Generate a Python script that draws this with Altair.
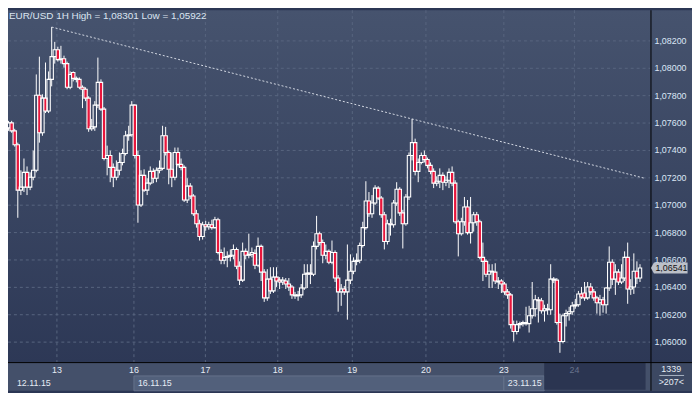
import altair as alt
import pandas as pd

# ---------------- data ----------------
opens = [
1.07565,1.07601,1.07543,1.07442,1.07110,1.07132,1.07240,1.07132,1.07204,1.07255,
1.07803,1.07529,1.07782,1.07688,1.07919,1.08085,1.08135,1.08063,1.08070,1.08034,
1.07861,1.07969,1.07926,1.07919,1.07861,1.07847,1.07782,1.07558,1.07572,1.07731,
1.07897,1.07702,1.07341,1.07363,1.07276,1.07204,1.07255,1.07312,1.07377,1.07507,
1.07515,1.07731,1.07363,1.07002,1.07218,1.07110,1.07161,1.07247,1.07197,1.07255,
1.07269,1.07507,1.07385,1.07262,1.07204,1.07385,1.07298,1.07276,1.07038,1.07139,
1.07067,1.06937,1.06865,1.06771,1.06857,1.06843,1.06857,1.06836,1.06894,1.06655,
1.06598,1.06619,1.06626,1.06634,1.06677,1.06554,1.06453,1.06663,1.06634,1.06641,
1.06648,1.06561,1.06699,1.06511,1.06323,1.06460,1.06374,1.06475,1.06453,1.06439,
1.06446,1.06424,1.06403,1.06345,1.06338,1.06345,1.06395,1.06496,1.06504,1.06496,
1.06699,1.06792,1.06727,1.06634,1.06663,1.06583,1.06655,1.06468,1.06367,1.06388,
1.06367,1.06453,1.06518,1.06590,1.06598,1.06706,1.06836,1.07031,1.06937,1.07016,
1.07125,1.07052,1.06930,1.06735,1.06865,1.06857,1.07016,1.07117,1.06944,1.06865,
1.07060,1.07363,1.07457,1.07247,1.07312,1.07363,1.07334,1.07291,1.07247,1.07161,
1.07175,1.07218,1.07168,1.07182,1.07240,1.07161,1.06879,1.06792,1.06879,1.06987,
1.06800,1.06872,1.06930,1.06879,1.06619,1.06590,1.06496,1.06518,1.06511,1.06446,
1.06446,1.06424,1.06367,1.06345,1.06128,1.06078,1.06128,1.06135,1.06143,1.06135,
1.06193,1.06244,1.06309,1.06302,1.06229,1.06237,1.06237,1.06460,1.06453,1.06143,
1.06005,1.06193,1.06208,1.06222,1.06265,1.06273,1.06352,1.06359,1.06323,1.06403,
1.06367,1.06323,1.06287,1.06309,1.06273,1.06395,1.06583,1.06460,1.06511,1.06439,
1.06468,1.06619,1.06388,1.06403,1.06518,1.06468]

highs = [
1.07616,1.07616,1.07558,1.07457,1.07255,1.07341,1.07283,1.07240,1.07399,1.07955,
1.08085,1.07810,1.08042,1.07977,1.08301,1.08193,1.08157,1.08164,1.08092,1.08049,
1.07977,1.07977,1.07940,1.07933,1.07875,1.07861,1.07796,1.07630,1.07760,1.08078,
1.07919,1.07717,1.07435,1.07399,1.07305,1.07327,1.07385,1.07413,1.07543,1.07580,
1.07760,1.07738,1.07399,1.07255,1.07262,1.07197,1.07283,1.07269,1.07276,1.07327,
1.07580,1.07572,1.07399,1.07385,1.07421,1.07421,1.07341,1.07291,1.07197,1.07161,
1.07081,1.06966,1.06894,1.06879,1.06886,1.06879,1.06894,1.06915,1.06908,1.06677,
1.06691,1.06663,1.06677,1.06713,1.06691,1.06590,1.06727,1.06684,1.06792,1.06691,
1.06677,1.06764,1.06713,1.06533,1.06533,1.06547,1.06547,1.06547,1.06475,1.06475,
1.06468,1.06468,1.06417,1.06367,1.06374,1.06424,1.06569,1.06569,1.06569,1.06735,
1.06922,1.06807,1.06749,1.06713,1.06677,1.06742,1.06670,1.06489,1.06424,1.06410,
1.06713,1.06641,1.06619,1.06648,1.06727,1.06879,1.07175,1.07096,1.07074,1.07146,
1.07139,1.07067,1.06951,1.06894,1.06901,1.07038,1.07168,1.07132,1.06966,1.07081,
1.07385,1.07630,1.07486,1.07341,1.07385,1.07399,1.07348,1.07312,1.07269,1.07211,
1.07269,1.07240,1.07211,1.07269,1.07283,1.07182,1.06894,1.06908,1.07060,1.07038,
1.07060,1.06951,1.06951,1.06894,1.06727,1.06605,1.06569,1.06569,1.06576,1.06475,
1.06460,1.06439,1.06388,1.06359,1.06157,1.06157,1.06150,1.06157,1.06258,1.06265,
1.06439,1.06345,1.06330,1.06323,1.06273,1.06280,1.06569,1.06475,1.06468,1.06208,
1.06208,1.06237,1.06258,1.06294,1.06316,1.06374,1.06403,1.06439,1.06439,1.06431,
1.06388,1.06338,1.06345,1.06330,1.06403,1.06699,1.06605,1.06569,1.06533,1.06569,
1.06663,1.06727,1.06460,1.06648,1.06590,1.06569]

lows = [
1.07543,1.07529,1.07428,1.06908,1.07074,1.07096,1.07074,1.07110,1.07182,1.07240,
1.07457,1.07507,1.07673,1.07673,1.07868,1.08034,1.08049,1.08034,1.08005,1.07847,
1.07847,1.07904,1.07897,1.07847,1.07709,1.07760,1.07536,1.07543,1.07543,1.07709,
1.07688,1.07327,1.07218,1.07168,1.07132,1.07182,1.07218,1.07291,1.07363,1.07471,
1.07500,1.07341,1.06872,1.06987,1.07096,1.07074,1.07146,1.07161,1.07168,1.07233,
1.07255,1.07363,1.07153,1.07132,1.07182,1.07283,1.07255,1.07024,1.07016,1.07045,
1.06922,1.06836,1.06742,1.06749,1.06814,1.06821,1.06821,1.06829,1.06641,1.06569,
1.06569,1.06547,1.06590,1.06605,1.06533,1.06417,1.06439,1.06605,1.06612,1.06619,
1.06533,1.06547,1.06446,1.06294,1.06302,1.06352,1.06359,1.06403,1.06388,1.06417,
1.06388,1.06374,1.06316,1.06316,1.06302,1.06323,1.06381,1.06395,1.06424,1.06482,
1.06677,1.06706,1.06576,1.06605,1.06569,1.06569,1.06439,1.06222,1.06265,1.06345,
1.06164,1.06424,1.06496,1.06561,1.06576,1.06691,1.06821,1.06915,1.06908,1.07002,
1.07038,1.06908,1.06677,1.06713,1.06778,1.06836,1.06995,1.06922,1.06684,1.06850,
1.07038,1.07327,1.07218,1.07168,1.07298,1.07312,1.07269,1.07226,1.07125,1.07139,
1.07125,1.07110,1.07139,1.07125,1.07139,1.06865,1.06626,1.06778,1.06850,1.06785,
1.06720,1.06807,1.06850,1.06605,1.06446,1.06475,1.06395,1.06395,1.06424,1.06388,
1.06359,1.06345,1.06316,1.06099,1.06005,1.06056,1.06099,1.06114,1.06121,1.06070,
1.06172,1.06186,1.06143,1.06208,1.06150,1.06200,1.06200,1.06431,1.06128,1.05922,
1.05991,1.06114,1.06157,1.06200,1.06244,1.06258,1.06316,1.06302,1.06309,1.06345,
1.06302,1.06208,1.06193,1.06215,1.06208,1.06374,1.06417,1.06345,1.06417,1.06424,
1.06446,1.06280,1.06345,1.06352,1.06424,1.06439]

closes = [
1.07601,1.07543,1.07442,1.07110,1.07132,1.07240,1.07132,1.07204,1.07255,1.07803,
1.07529,1.07782,1.07688,1.07919,1.08085,1.08135,1.08063,1.08070,1.08034,1.07861,
1.07955,1.07926,1.07919,1.07861,1.07847,1.07782,1.07558,1.07572,1.07731,1.07897,
1.07702,1.07341,1.07363,1.07276,1.07204,1.07255,1.07312,1.07377,1.07507,1.07515,
1.07731,1.07363,1.07002,1.07218,1.07110,1.07161,1.07247,1.07197,1.07255,1.07269,
1.07507,1.07385,1.07262,1.07204,1.07385,1.07298,1.07276,1.07038,1.07139,1.07067,
1.06937,1.06865,1.06771,1.06857,1.06843,1.06857,1.06836,1.06894,1.06655,1.06598,
1.06619,1.06626,1.06634,1.06677,1.06554,1.06453,1.06663,1.06634,1.06641,1.06655,
1.06561,1.06699,1.06511,1.06323,1.06460,1.06374,1.06475,1.06446,1.06439,1.06453,
1.06424,1.06403,1.06345,1.06338,1.06345,1.06395,1.06496,1.06504,1.06496,1.06699,
1.06792,1.06727,1.06634,1.06663,1.06583,1.06655,1.06468,1.06367,1.06388,1.06367,
1.06453,1.06518,1.06590,1.06598,1.06706,1.06836,1.07031,1.06937,1.07016,1.07125,
1.07052,1.06930,1.06735,1.06865,1.06857,1.07016,1.07117,1.06944,1.06865,1.07060,
1.07363,1.07457,1.07247,1.07312,1.07363,1.07334,1.07291,1.07247,1.07161,1.07175,
1.07218,1.07168,1.07182,1.07240,1.07161,1.06879,1.06792,1.06879,1.06987,1.06800,
1.06872,1.06930,1.06879,1.06619,1.06590,1.06496,1.06518,1.06511,1.06446,1.06439,
1.06424,1.06367,1.06345,1.06128,1.06078,1.06128,1.06135,1.06143,1.06135,1.06193,
1.06244,1.06309,1.06302,1.06229,1.06244,1.06244,1.06460,1.06453,1.06143,1.06005,
1.06193,1.06208,1.06222,1.06265,1.06273,1.06352,1.06330,1.06323,1.06403,1.06367,
1.06323,1.06287,1.06309,1.06273,1.06395,1.06583,1.06460,1.06511,1.06439,1.06468,
1.06619,1.06388,1.06403,1.06518,1.06468,1.06541]

y_ticks = [1.060, 1.062, 1.064, 1.066, 1.068, 1.070, 1.072, 1.074, 1.076, 1.078, 1.080, 1.082]
y_tick_labels = ["1,06000", "1,06200", "1,06400", "1,06600", "1,06800", "1,07000",
                 "1,07200", "1,07400", "1,07600", "1,07800", "1,08000", "1,08200"]

day_labels = ["13", "16", "17", "18", "19", "20", "23", "24"]
day_pos = [15.7, 40.7, 63.9, 87.4, 111.6, 135.5, 160.8, 183.7]

week_labels = ["12.11.15", "16.11.15", "23.11.15"]
week_start = [1.422, 40.7, 160.8]
week_end = [40.7, 160.8, 173.9]
current_start = 173.9

trend_i = [14, 206.8]
trend_p = [1.08301, 1.07195]

total_bars = 1339
visible_bars = 207

x_domain = [1.422, 206.8]
y_domain = [1.05854, 1.08424]

# ---------------- layout / style ----------------
W, H = 650, 356
PR, PB = 42, 29
FONT = "Liberation Sans"
RED = "#e8163c"


def fmt(v):
    return f"{v:.5f}".replace(".", ",")


df = pd.DataFrame({"i": list(range(len(closes))), "o": opens, "h": highs, "l": lows, "c": closes})
df["top"] = df[["o", "c"]].max(axis=1)
df["bot"] = df[["o", "c"]].min(axis=1)
df["hi"] = df[["h", "top"]].max(axis=1)
df["lo"] = df[["l", "bot"]].min(axis=1)
df["fillc"] = [RED if c < o else "transparent" for o, c in zip(opens, closes)]

xs = alt.Scale(domain=x_domain, nice=False, zero=False)
ys = alt.Scale(domain=y_domain, nice=False, zero=False)
one = pd.DataFrame({"k": [0]})

bg = alt.Chart(one).mark_rect(
    color=alt.Gradient(gradient="linear",
                       stops=[alt.GradientStop(color="#46536e", offset=0),
                              alt.GradientStop(color="#2b3654", offset=1)],
                       x1=0, x2=0, y1=0, y2=1)
).encode(x=alt.value(0), x2=alt.value(W + PR), y=alt.value(0), y2=alt.value(H + PB))

bottom_bg = alt.Chart(one).mark_rect(color="#44506a").encode(
    x=alt.value(0), x2=alt.value(W + PR), y=alt.value(H), y2=alt.value(H + PB))

weeks = pd.DataFrame({"label": week_labels, "start": week_start, "end": week_end})
week_boxes = alt.Chart(weeks.iloc[1:]).mark_rect(color="#52607b", stroke="#65728c", strokeWidth=1).encode(
    x=alt.X("start:Q", scale=xs, axis=None), x2="end:Q",
    y=alt.value(H + 14), y2=alt.value(H + 29))

cur = pd.DataFrame({"s": [current_start], "e": [x_domain[1]]})
cur_box = alt.Chart(cur).mark_rect(color="#2b3551").encode(
    x=alt.X("s:Q", scale=xs, axis=None), x2="e:Q", y=alt.value(H + 1), y2=alt.value(H + 28))

corner = alt.Chart(one).mark_rect(color="#3c4862").encode(
    x=alt.value(W + 1), x2=alt.value(W + PR), y=alt.value(H + 1), y2=alt.value(H + PB))

ticks_df = pd.DataFrame({"v": y_ticks, "t": y_tick_labels})
hgrid = alt.Chart(ticks_df).mark_rule(color="#58657f", strokeDash=[3, 3], strokeWidth=1, clip=True).encode(
    y=alt.Y("v:Q", scale=ys, axis=None), x=alt.value(0), x2=alt.value(W))
ylabels = alt.Chart(ticks_df).mark_text(align="left", baseline="middle", font=FONT, fontSize=9,
                                        color="#dbe6f5").encode(
    y=alt.Y("v:Q", scale=ys, axis=None), x=alt.value(W + 4), text="t:N")

days = pd.DataFrame({"pos": day_pos, "label": day_labels})
days["col"] = ["#68738c" if p >= current_start else "#e6ecf4" for p in day_pos]
vgrid = alt.Chart(days).mark_rule(color="#58657f", strokeDash=[3, 3], strokeWidth=1).encode(
    x=alt.X("pos:Q", scale=xs, axis=None), y=alt.value(0), y2=alt.value(H))

trend = alt.Chart(pd.DataFrame({"i": trend_i, "p": trend_p})).mark_line(
    color="#d4dae4", strokeDash=[2, 2], strokeWidth=1, clip=True).encode(
    x=alt.X("i:Q", scale=xs, axis=None), y=alt.Y("p:Q", scale=ys, axis=None))

base = alt.Chart(df)
wick_up = base.mark_rule(color="white", strokeWidth=1, clip=True).encode(
    x=alt.X("i:Q", scale=xs, axis=None), y=alt.Y("hi:Q", scale=ys, axis=None), y2="top:Q")
wick_dn = base.mark_rule(color="white", strokeWidth=1, clip=True).encode(
    x=alt.X("i:Q", scale=xs, axis=None), y=alt.Y("bot:Q", scale=ys, axis=None), y2="lo:Q")
bodies = base.mark_bar(size=3.4, stroke="white", strokeWidth=1.1, clip=True).encode(
    x=alt.X("i:Q", scale=xs, axis=None), y=alt.Y("top:Q", scale=ys, axis=None), y2="bot:Q",
    fill=alt.Fill("fillc:N", scale=None))

vline = alt.Chart(one).mark_rule(color="black", strokeWidth=1).encode(
    x=alt.value(W + 0.5), y=alt.value(0), y2=alt.value(H + PB))
hline = alt.Chart(one).mark_rule(color="black", strokeWidth=1).encode(
    y=alt.value(H + 0.5), x=alt.value(0), x2=alt.value(W + PR))

title_text = f"EUR/USD 1H High = {fmt(max(highs))} Low = {fmt(min(lows))}"
title = alt.Chart(one).mark_text(align="left", baseline="alphabetic", font=FONT, fontSize=10,
                                 color="#dbe5f1").encode(
    x=alt.value(1), y=alt.value(9), text=alt.value(title_text))

day_text = alt.Chart(days).mark_text(align="center", baseline="middle", font=FONT, fontSize=9).encode(
    x=alt.X("pos:Q", scale=xs, axis=None), y=alt.value(H + 8), text="label:N",
    color=alt.Color("col:N", scale=None))

week_text = alt.Chart(weeks).mark_text(align="left", baseline="middle", font=FONT, fontSize=9,
                                       color="#e6ecf4", dx=4).encode(
    x=alt.X("start:Q", scale=xs, axis=None), y=alt.value(H + 21), text="label:N")

corner_txt1 = alt.Chart(one).mark_text(align="center", baseline="middle", font=FONT, fontSize=9,
                                       color="#e6ecf4").encode(
    x=alt.value(W + 21), y=alt.value(H + 7), text=alt.value(str(total_bars)))
corner_txt2 = alt.Chart(one).mark_text(align="center", baseline="middle", font=FONT, fontSize=9,
                                       color="#e6ecf4").encode(
    x=alt.value(W + 21), y=alt.value(H + 20), text=alt.value(f">{visible_bars}<"))
corner_sep = alt.Chart(one).mark_rule(color="#aab4c4", strokeWidth=1).encode(
    x=alt.value(W + 9), x2=alt.value(W + 34), y=alt.value(H + 13.5))

last = pd.DataFrame({"p": [closes[-1]], "t": [fmt(closes[-1])]})
last_box = alt.Chart(last).mark_point(shape="M0,0L3,-5.5H37V5.5H3Z", size=4, filled=True,
                                      fill="#bcc0c8", opacity=1, strokeWidth=0).encode(
    x=alt.value(W + 0.5), y=alt.Y("p:Q", scale=ys, axis=None))
last_txt = alt.Chart(last).mark_text(align="left", baseline="middle", font=FONT, fontSize=9,
                                     color="#111111").encode(
    x=alt.value(W + 5), y=alt.Y("p:Q", scale=ys, axis=None), text="t:N")

chart = alt.layer(
    bg, bottom_bg, week_boxes, cur_box, corner, hgrid, vgrid, trend,
    wick_up, wick_dn, bodies, vline, hline, ylabels, title, day_text, week_text,
    corner_txt1, corner_txt2, corner_sep, last_box, last_txt
).properties(
    width=W, height=H,
    padding={"left": 0, "top": 0, "right": PR, "bottom": PB},
    autosize=alt.AutoSizeParams(type="none"),
    background="#2b3654",
).configure_view(strokeWidth=0)

chart.save("out.html", embed_options={"renderer": "svg", "actions": False})
